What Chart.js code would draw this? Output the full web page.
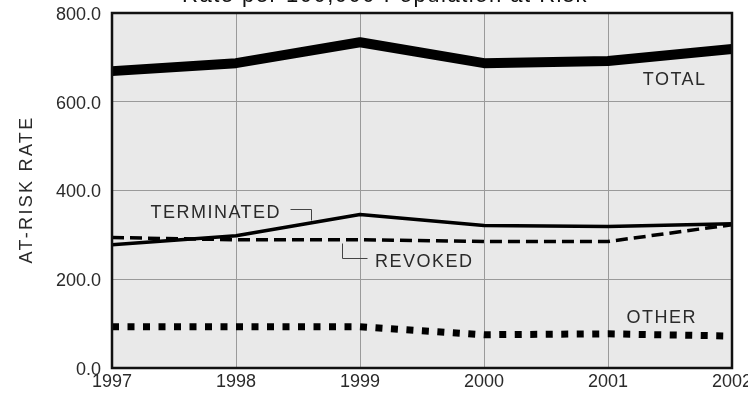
<!DOCTYPE html>
<html><head><meta charset="utf-8">
<script src="https://cdn.jsdelivr.net/npm/chart.js@4"></script>
<style>html,body{margin:0;padding:0;background:#fff;overflow:hidden}#wrap{width:748px;height:395px;position:relative}</style>
</head><body><div id="wrap"><canvas id="c" width="748" height="395"></canvas></div>
<script>
const years = ["1997","1998","1999","2000","2001","2002"];
const totalRate = [669, 687, 734, 687, 692, 719];
const terminatedRate = [278, 298, 346, 321, 319, 325];
const revokedRate = [294, 289, 289, 285, 285, 323];
const otherRate = [93, 93, 93, 75, 77, 72];
const yTicks = [0, 200, 400, 600, 800];
const titleText = "Rate per 100,000 Population at Risk";
const yTitle = "AT-RISK RATE";
const seriesLabels = [
  {text:"TOTAL", x:4.28, y:637},
  {text:"TERMINATED", x:0.31, y:337},
  {text:"REVOKED", x:2.12, y:228},
  {text:"OTHER", x:4.15, y:102}
];
const leaders = [
  [[1.435,359],[1.605,359],[1.605,334]],
  [[1.855,282],[1.855,249],[2.056,249]]
];
const FONT = "'Liberation Sans', Arial, Helvetica, sans-serif";
const TXT = "#2a2a2a";

const deco = {
  id:'deco',
  beforeInit(chart){ chart.ctx.letterSpacing = '1.5px'; },
  beforeDraw(chart){
    const {ctx, chartArea:a} = chart;
    ctx.save();
    ctx.fillStyle = '#e9e9e9';
    ctx.fillRect(a.left, a.top, a.right-a.left, a.bottom-a.top);
    ctx.restore();
  },
  afterDatasetsDraw(chart){
    const {ctx, chartArea:a, scales:{x,y}} = chart;
    ctx.save();
    ctx.letterSpacing = '1.5px';
    ctx.strokeStyle = '#111'; ctx.lineWidth = 2.5;
    ctx.strokeRect(a.left, a.top, a.right-a.left, a.bottom-a.top);
    ctx.fillStyle = TXT;
    ctx.font = "18px " + FONT;
    ctx.textBaseline = 'alphabetic'; ctx.textAlign = 'left';
    seriesLabels.forEach(l => ctx.fillText(l.text, x.getPixelForValue(l.x), y.getPixelForValue(l.y)));
    ctx.strokeStyle = '#444'; ctx.lineWidth = 1;
    leaders.forEach(pts => {
      ctx.beginPath();
      pts.forEach((p,i) => {
        const px = Math.round(x.getPixelForValue(p[0]))+0.5, py = Math.round(y.getPixelForValue(p[1]))+0.5;
        i ? ctx.lineTo(px,py) : ctx.moveTo(px,py);
      });
      ctx.stroke();
    });
    // y-axis title
    ctx.save();
    ctx.letterSpacing = '2.3px';
    ctx.translate(32, (a.top + a.bottom)/2 - 1);
    ctx.rotate(-Math.PI/2);
    ctx.textAlign = 'center';
    ctx.fillText(yTitle, 0, 0);
    ctx.restore();
    ctx.font = "22px " + FONT; ctx.textAlign = 'center'; ctx.fillStyle = '#111';
    ctx.fillText(titleText, 385, 2);
    ctx.restore();
  }
};

new Chart(document.getElementById('c'), {
  type:'line',
  data:{ labels: years, datasets:[
    {label:'TOTAL', data: totalRate, borderColor:'#000', borderWidth:10, pointRadius:0, tension:0, borderCapStyle:'butt', borderJoinStyle:'round'},
    {label:'TERMINATED', data: terminatedRate, borderColor:'#000', borderWidth:3.5, pointRadius:0, tension:0, borderJoinStyle:'round'},
    {label:'REVOKED', data: revokedRate, borderColor:'#000', borderWidth:3.5, borderDash:[12,6], pointRadius:0, tension:0},
    {label:'OTHER', data: otherRate, borderColor:'#000', borderWidth:7, borderDash:[7,8.5], pointRadius:0, tension:0, borderCapStyle:'butt'}
  ]},
  options:{
    responsive:false, animation:false,
    layout:{padding:{top:13, right:16, left:0, bottom:0}},
    plugins:{legend:{display:false}, tooltip:{enabled:false}, title:{display:false}},
    scales:{
      x:{
        grid:{color:'#9a9a9a', lineWidth:1, drawTicks:false},
        border:{display:false},
        ticks:{color:TXT, font:{family:FONT, size:18}, padding:3, maxRotation:0, autoSkip:false},
        afterFit(s){ s.height = 27; s.paddingLeft = 0; s.paddingRight = 0; }
      },
      y:{
        min:0, max:800,
        afterBuildTicks(s){ s.ticks = yTicks.map(v=>({value:v})); },
        grid:{color:'#9a9a9a', lineWidth:1, drawTicks:false},
        border:{display:false},
        ticks:{color:TXT, font:{family:FONT, size:18}, padding:11, labelOffset:2, callback:v=>Number(v).toFixed(1)},
        title:{display:false},
        afterFit(s){ s.width = 112; s.paddingTop = 0; s.paddingBottom = 0; }
      }
    }
  },
  plugins:[deco]
});
</script></body></html>
